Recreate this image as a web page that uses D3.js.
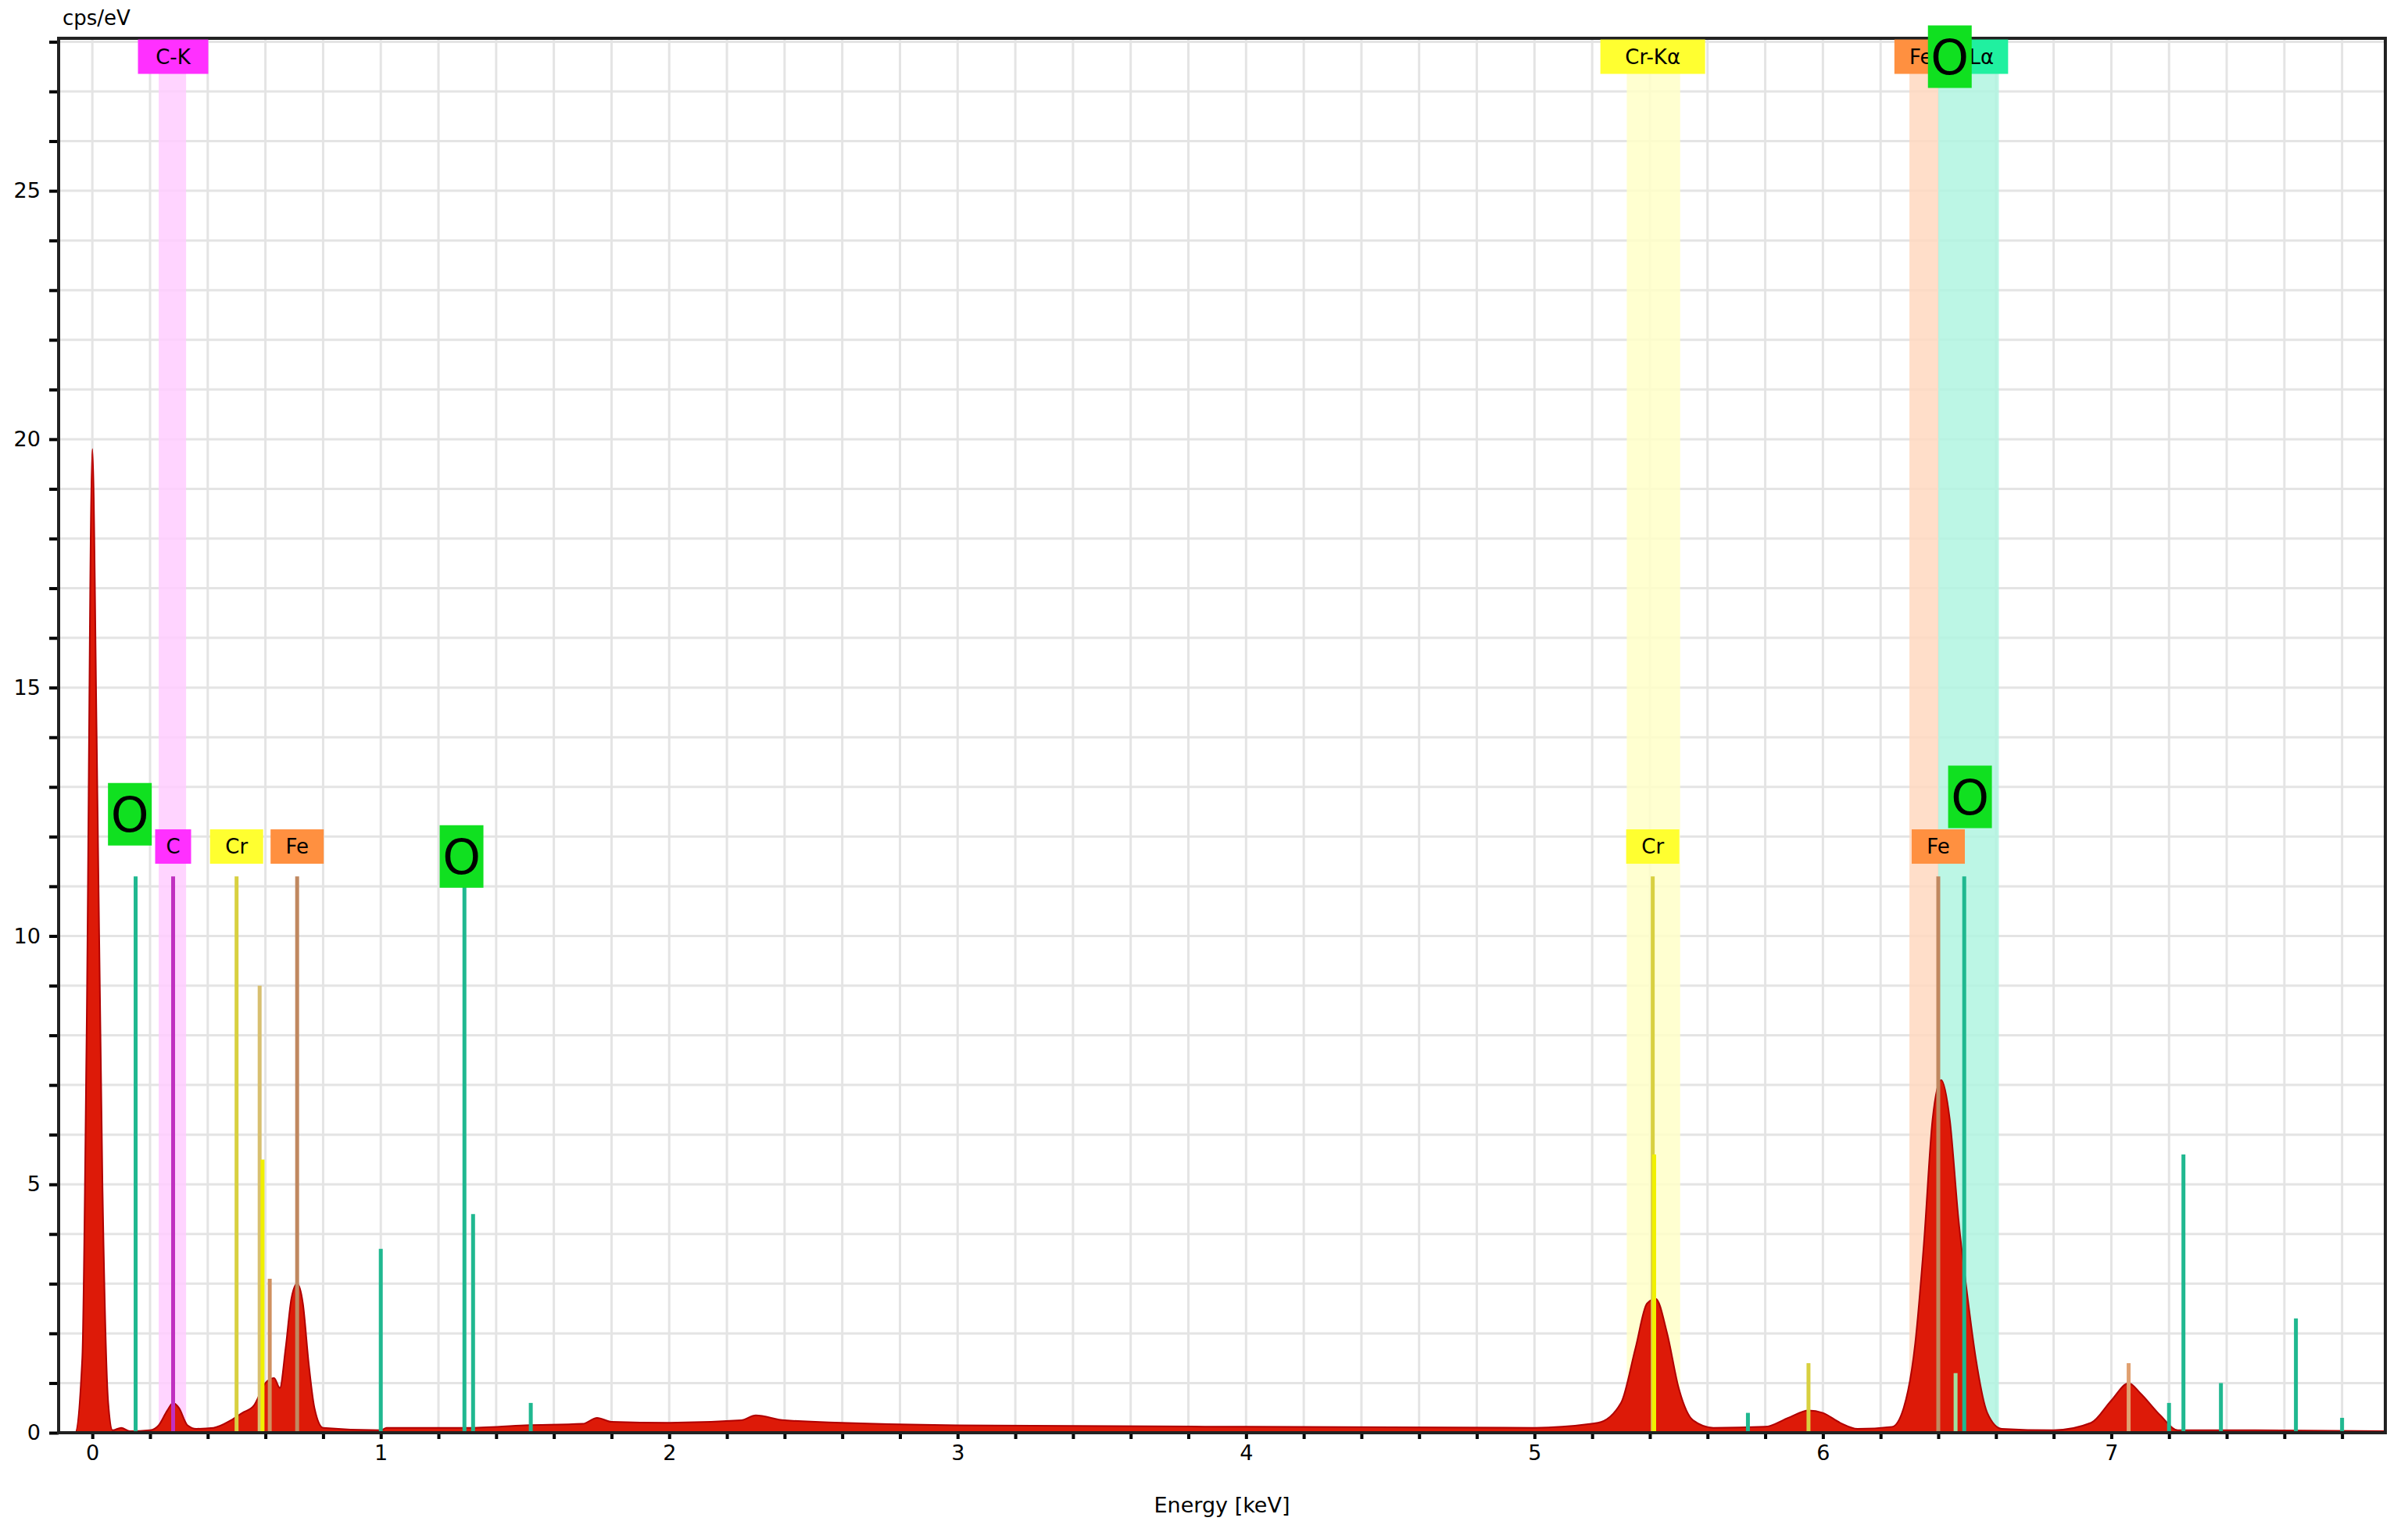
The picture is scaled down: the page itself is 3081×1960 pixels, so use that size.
<!DOCTYPE html>
<html><head><meta charset="utf-8">
<script src="https://cdn.jsdelivr.net/npm/d3@7"></script>
<style>body{margin:0;background:#fff}text{font-family:"DejaVu Sans",sans-serif}</style>
</head><body><svg id="chart" width="3081" height="1960"></svg>
<script>
// spectrum [energy keV, cps/eV]
const spectrum = [[-0.12,0],[-0.06,0],[-0.035,1.5],[-0.02,8],[0,19.8],[0.015,14],[0.035,5],[0.055,0.6],[0.07,0.05],[0.1,0.1],[0.13,0.03],[0.2,0.05],[0.23,0.15],[0.26,0.45],[0.28,0.6],[0.3,0.5],[0.33,0.15],[0.36,0.08],[0.42,0.1],[0.48,0.25],[0.52,0.4],[0.56,0.55],[0.6,1.0],[0.63,1.1],[0.65,0.9],[0.67,1.7],[0.69,2.7],[0.71,3.0],[0.73,2.6],[0.75,1.4],[0.77,0.5],[0.8,0.1],[1.0,0.05],[1.02,0.1],[1.3,0.1],[1.5,0.15],[1.7,0.18],[1.75,0.3],[1.8,0.22],[2.0,0.2],[2.25,0.25],[2.3,0.35],[2.4,0.25],[3.0,0.15],[4.0,0.12],[5.0,0.1],[5.22,0.2],[5.3,0.6],[5.35,1.7],[5.39,2.6],[5.42,2.7],[5.46,2.0],[5.5,0.9],[5.55,0.25],[5.62,0.1],[5.8,0.12],[5.88,0.3],[5.95,0.45],[6.0,0.4],[6.06,0.2],[6.12,0.08],[6.24,0.12],[6.28,0.5],[6.32,1.8],[6.35,3.8],[6.38,6.3],[6.41,7.1],[6.44,6.3],[6.47,4.3],[6.5,2.8],[6.53,1.5],[6.57,0.4],[6.62,0.08],[6.8,0.05],[6.93,0.2],[7.0,0.65],[7.06,1.0],[7.1,0.8],[7.17,0.35],[7.23,0.05],[7.5,0.05],[7.95,0.03]];

// element marker lines [energy, height, colour]
const lines = [
 [0.15,11.2,"#20b890"],[0.28,11.2,"#c030c0"],[0.5,11.2,"#d8d040"],[0.58,9.0,"#d8c070"],[0.59,5.5,"#f0f000"],
 [0.615,3.1,"#d09060"],[0.71,11.2,"#c08860"],[1.0,3.7,"#20b890"],[1.29,11.2,"#20b890"],[1.32,4.4,"#20b890"],
 [1.52,0.6,"#20b890"],[5.41,11.2,"#d8d040"],[5.415,5.6,"#f0f000"],[5.74,0.4,"#20b890"],[5.95,1.4,"#d8d040"],
 [6.40,11.2,"#c08860"],[6.49,11.2,"#20b890"],[6.46,1.2,"#a0e0a0"],[7.06,1.4,"#e0a070"],[7.2,0.6,"#20b890"],
 [7.25,5.6,"#20b890"],[7.38,1.0,"#20b890"],[7.64,2.3,"#20b890"],[7.8,0.3,"#20b890"]];

// highlighted bands [from, to, colour]
const bands = [[0.23,0.325,"#ffccff"],[5.32,5.505,"#ffffc8"],[6.30,6.40,"#ffd8c0"],[6.40,6.61,"#b0f5e0"]];

// small labels [energy, y, text, fill]
const labels = [[0.28,11.8,"C","#ff30ff"],[0.5,11.8,"Cr","#ffff30"],[0.71,11.8,"Fe","#ff9040"],
 [5.41,11.8,"Cr","#ffff30"],[6.40,11.8,"Fe","#ff9040"],
 [0.28,27.7,"C-K","#ff30ff"],[5.41,27.7,"Cr-K\u03b1","#ffff30"],[6.34,27.7,"Fe","#ff9040"],[6.55,27.7,"L\u03b1","#20f0a0"]];
// big oxygen labels [energy, y]
const oLabels = [[0.13,12.45],[1.28,11.6],[6.51,12.8],[6.44,27.7]];

const W = 3081, H = 1960, m = {l:75, r:29, t:49, b:127};
const svg = d3.select("#chart");
const x = d3.scaleLinear().domain([-0.117,7.95]).range([m.l, W-m.r]);
const y = d3.scaleLinear().domain([0,28.07]).range([H-m.b, m.t]);

// grid
svg.append("g").selectAll("line").data(d3.range(0,7.95,0.2)).join("line")
 .attr("x1",d=>x(d)).attr("x2",d=>x(d)).attr("y1",y(0)).attr("y2",m.t)
 .attr("stroke","#e4e4e4").attr("stroke-width",3);
svg.append("g").selectAll("line").data(d3.range(1,28.5,1)).join("line")
 .attr("x1",m.l).attr("x2",W-m.r).attr("y1",d=>y(d)).attr("y2",d=>y(d))
 .attr("stroke","#e4e4e4").attr("stroke-width",3);

// bands
svg.append("g").selectAll("rect").data(bands).join("rect")
 .attr("x",d=>x(d[0])).attr("width",d=>x(d[1])-x(d[0]))
 .attr("y",m.t).attr("height",y(0)-m.t).attr("fill",d=>d[2]).attr("opacity",0.85);

// spectrum
svg.append("path").datum(spectrum)
 .attr("d",d3.area().x(d=>x(d[0])).y0(y(0)).y1(d=>y(d[1])).curve(d3.curveMonotoneX))
 .attr("fill","#dd1a08").attr("stroke","#b00000").attr("stroke-width",2);

// marker lines
svg.append("g").selectAll("line").data(lines).join("line")
 .attr("x1",d=>x(d[0])).attr("x2",d=>x(d[0])).attr("y1",y(0)).attr("y2",d=>y(d[1]))
 .attr("stroke",d=>d[2]).attr("stroke-width",5);

// axes
svg.append("g").attr("transform",`translate(0,${y(0)})`)
 .call(d3.axisBottom(x).tickValues(d3.range(0,7.95,0.2)).tickSize(8).tickFormat(d=>Math.abs(d-Math.round(d))<1e-6?Math.round(d):""))
 .call(g=>g.select(".domain").remove())
 .call(g=>g.selectAll("line").attr("stroke","#000").attr("stroke-width",4))
 .call(g=>g.selectAll("text").attr("font-size",27).attr("dy","0.9em"));
svg.append("g").attr("transform",`translate(${m.l},0)`)
 .call(d3.axisLeft(y).tickValues(d3.range(0,28.5,1)).tickSize(12).tickFormat(d=>d%5===0?d:""))
 .call(g=>g.select(".domain").remove())
 .call(g=>g.selectAll("line").attr("stroke","#000").attr("stroke-width",4))
 .call(g=>g.selectAll("text").attr("font-size",27).attr("dx","-0.3em"));

// frame
svg.append("rect").attr("x",m.l).attr("y",m.t).attr("width",W-m.r-m.l).attr("height",y(0)-m.t)
 .attr("fill","none").attr("stroke","#222").attr("stroke-width",4);

// small labels
const lg = svg.append("g").selectAll("g").data(labels).join("g")
 .attr("transform",d=>`translate(${x(d[0])},${y(d[1])})`);
lg.append("rect").attr("x",d=>-(d[2].length*11+12)).attr("width",d=>d[2].length*22+24)
 .attr("y",-22).attr("height",44).attr("fill",d=>d[3]);
lg.append("text").text(d=>d[2]).attr("text-anchor","middle").attr("dy","0.35em").attr("font-size",26);

// big O labels
const og = svg.append("g").selectAll("g").data(oLabels).join("g")
 .attr("transform",d=>`translate(${x(d[0])},${y(d[1])})`);
og.append("rect").attr("x",-28).attr("y",-40).attr("width",56).attr("height",80).attr("fill","#10e020");
og.append("text").text("O").attr("text-anchor","middle").attr("dy","0.36em").attr("font-size",62);

svg.append("text").text("cps/eV").attr("x",80).attr("y",32).attr("font-size",26);
svg.append("text").text("Energy [keV]").attr("x",(m.l+W-m.r)/2).attr("y",1935).attr("text-anchor","middle").attr("font-size",27);
</script></body></html>
